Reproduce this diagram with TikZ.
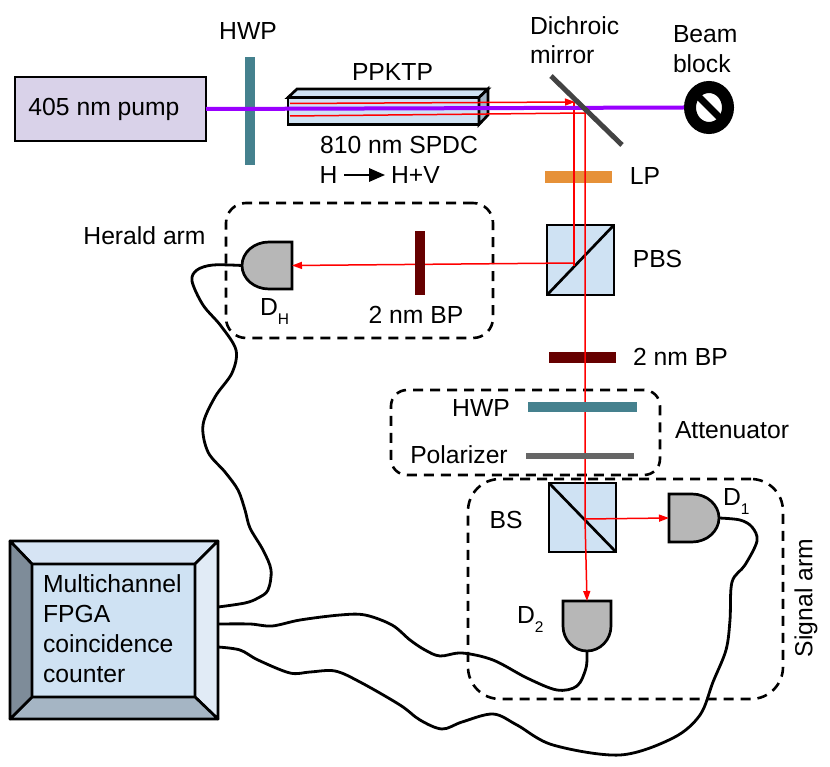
\documentclass[tikz,border=0pt]{standalone}
\usepackage{fontspec}
\setmainfont{Liberation Sans}
\usetikzlibrary{arrows.meta,shapes.geometric}
\definecolor{pumpfill}{HTML}{D9D2E9}
\definecolor{waveplate}{HTML}{45818E}
\definecolor{glass}{HTML}{CFE2F3}
\definecolor{glassend}{HTML}{A2B5C6}
\definecolor{filterdark}{HTML}{660000}
\definecolor{lpfill}{HTML}{E69138}
\definecolor{uvbeam}{HTML}{9900FF}
\definecolor{detfill}{HTML}{B7B7B7}
\definecolor{mirrorgrey}{HTML}{434343}
\definecolor{polgrey}{HTML}{666666}
\definecolor{bevtop}{HTML}{D6E4F4}
\definecolor{bevright}{HTML}{E1EBF6}
\definecolor{bevbottom}{HTML}{A5B5C4}
\definecolor{bevleft}{HTML}{7E8C99}
\newcommand{\detsub}[1]{\raisebox{-9pt}{\fontsize{15.5}{16}\selectfont #1}}
\tikzset{
  lbl/.style={inner sep=0pt,outer sep=0pt,font=\fontsize{24.7}{30}\selectfont,text=black,align=left},
  boxed/.style={draw=black,line width=2.7pt,inner sep=0pt,outer sep=0pt},
  plate/.style={inner sep=0pt,outer sep=0pt},
  cube/.style={boxed,fill=glass,minimum width=67pt,minimum height=69pt},
  region/.style={draw=black,line width=2.6pt,dash pattern=on 10pt off 7pt,rounded corners=20pt,inner sep=0pt,outer sep=0pt},
  ray/.style={draw=red,line width=1.5pt},
  rayhead/.style={ray,-{Triangle[length=10pt,width=7pt]}},
  cable/.style={draw=black,line width=2.8pt,smooth,tension=0.55},
  detshape/.style={draw=black,line width=2.7pt,fill=detfill,line join=miter},
  anchorbox/.style={inner sep=0pt,outer sep=0pt},
  bevel/.style={draw=black,line width=2.7pt,line join=round}
}
\begin{document}
\begin{tikzpicture}[x=1pt,y=-1pt]
\useasboundingbox (0,0) rectangle (830,767);

% dashed regions
\node[region,minimum width=267pt,minimum height=135pt] (heraldzone) at (359.5,270.5) {};
\node[region,rounded corners=16pt,minimum width=269pt,minimum height=85pt] (attzone) at (525.5,432.5) {};
\node[region,rounded corners=32pt,minimum width=315pt,minimum height=220pt] (sigzone) at (625.5,589) {};

% pump and half-wave plate
\node[boxed,fill=pumpfill,minimum width=191pt,minimum height=64pt] (pump) at (110.5,109) {};
\node[lbl] (pumptext) at (104,109) {405 nm pump};
\node[plate,fill=waveplate,minimum width=10pt,minimum height=108pt] (hwpa) at (250,111) {};
\node[lbl] at (248,31) {HWP};

% nonlinear crystal
\node[boxed,fill=glass,minimum width=191pt,minimum height=27pt] (ppktp) at (383.5,111) {};
\draw[boxed,fill=glass] (ppktp.north west) -- (297,89) -- (488,89) -- (ppktp.north east) -- cycle;
\draw[boxed,fill=glassend] (ppktp.north east) -- (488,89) -- (488,115) -- (ppktp.south east) -- cycle;
\node[lbl] at (392.5,72) {PPKTP};
\node[lbl] at (399,145) {810 nm SPDC};
\node[lbl] (hin) at (328.5,175) {H};
\node[lbl] (hout) at (415.5,175) {H+V};
\draw[line width=2.8pt,-{Triangle[length=16pt,width=13pt]}] ([xshift=7pt]hin.east) -- ([xshift=-6pt]hout.west);

% filters and cubes
\node[plate,fill=lpfill,minimum width=67pt,minimum height=12pt] (lp) at (578.5,177) {};
\node[lbl] at (645,176) {LP};
\node[cube,minimum height=70pt] (pbs) at (580.5,260) {};
\draw[line width=2.7pt] (pbs.south west) -- (pbs.north east);
\node[lbl] at (657.5,259) {PBS};
\node[plate,fill=filterdark,minimum width=67pt,minimum height=11pt] (bps) at (582.5,357.5) {};
\node[lbl] at (680.5,357) {2 nm BP};
\node[lbl] at (481,408) {HWP};
\node[lbl] at (459,455) {Polarizer};
\node[lbl] at (732,430) {Attenuator};
\node[cube] (bs) at (582.5,517.5) {};
\draw[line width=2.7pt] (bs.north west) -- (bs.south east);
\node[lbl] at (506,520) {BS};
\node[lbl] at (144.5,236) {Herald arm};
\node[lbl,rotate=90] at (806,598) {Signal arm};
\node[lbl,anchor=west] at (530,26) {Dichroic};
\node[lbl,anchor=west] at (530,55) {mirror};
\node[lbl,anchor=west] at (673,34) {Beam};
\node[lbl,anchor=west] at (673,64) {block};

% detectors
\node[anchorbox,minimum width=50pt,minimum height=47pt] (dh) at (267,265.5) {};
\node[anchorbox,minimum width=50pt,minimum height=48pt] (done) at (694,518) {};
\node[anchorbox,minimum width=48pt,minimum height=50pt] (dtwo) at (587,626) {};
\draw[detshape] (dh.north east) -- ++(-23,0) .. controls +(-15,0) and +(0,-13) .. (dh.west) .. controls +(0,13) and +(-15,0) .. ++(27,23.5) -- (dh.south east) -- cycle;
\draw[detshape] (done.north west) -- ++(23,0) .. controls +(15,0) and +(0,-13) .. (done.east) .. controls +(0,13) and +(15,0) .. ++(-27,24) -- (done.south west) -- cycle;
\draw[detshape] (dtwo.north west) -- (dtwo.north east) -- ++(0,25) .. controls +(0,14) and +(13,0) .. (dtwo.south) .. controls +(-13,0) and +(0,14) .. ++(-24,-25) -- cycle;
\node[lbl,anchor=base west] at (260,316) {D\detsub{H}};
\node[lbl,anchor=base west] at (723,505) {D\detsub{1}};
\node[lbl,anchor=base west] at (517,623) {D\detsub{2}};

% signal rays and herald path
\coordinate (rayAin) at (290,103.5);
\coordinate (rayAturn) at (575,102);
\coordinate (rayAfoot) at (574,266);
\coordinate (rayBin) at (290,116);
\coordinate (rayBturn) at (585,113);
\coordinate (split) at (585,519);
\draw[rayhead] (rayAin) -- (rayAturn);
\draw[ray] (574,102) -- (rayAfoot);
\draw[ray] (rayBin) -- (rayBturn) -- (split);
\draw[rayhead] (split) -- (dtwo.north);
\draw[rayhead] (split) -- (done.west);
\draw[rayhead] (574,263) -- (dh.east);

% elements seated over the rays
\node[plate,fill=filterdark,minimum width=10pt,minimum height=64pt] (bph) at (420,263) {};
\node[lbl] at (416,315) {2 nm BP};
\node[plate,fill=waveplate,minimum width=109pt,minimum height=10pt] (hwpb) at (582.5,407) {};
\node[plate,fill=polgrey,minimum width=108pt,minimum height=6pt] (pol) at (580,455.5) {};

% beam block, pump beam, dichroic mirror
\node[ellipse,draw=black,line width=12pt,fill=white,minimum width=38pt,minimum height=41pt,inner sep=0pt,outer sep=6pt] (block) at (709,107.5) {};
\draw[line width=7pt] (696,94) -- (723,121);
\draw[draw=uvbeam,line width=4pt] (pump.east) -- (block.west);
\coordinate (mirrorA) at (551,76);
\coordinate (mirrorB) at (622,145);
\draw[draw=mirrorgrey,line width=5pt] (mirrorA) -- (mirrorB);

% coincidence counter
\coordinate (oNW) at (10,541);
\coordinate (oNE) at (218,541);
\coordinate (oSE) at (218,719);
\coordinate (oSW) at (10,719);
\node[boxed,fill=glass,minimum width=163pt,minimum height=133pt] (fpga) at (113.5,630.5) {};
\draw[bevel,fill=bevtop] (oNW) -- (oNE) -- (fpga.north east) -- (fpga.north west) -- cycle;
\draw[bevel,fill=bevright] (oNE) -- (oSE) -- (fpga.south east) -- (fpga.north east) -- cycle;
\draw[bevel,fill=bevbottom] (oSE) -- (oSW) -- (fpga.south west) -- (fpga.south east) -- cycle;
\draw[bevel,fill=bevleft] (oSW) -- (oNW) -- (fpga.north west) -- (fpga.south west) -- cycle;
\node[lbl,anchor=north west] at (43,575) {Multichannel\\FPGA\\coincidence\\counter};

% detector cables
\coordinate (portA) at (218,607);
\coordinate (portB) at (218,624);
\coordinate (portC) at (218,647);
\draw[cable] plot coordinates {(dh.west) (213,265) (197,270) (192,281) (203,305) (221,326) (236,350) (232,373) (215,397) (203,425) (208,452) (225,472) (238,490) (245,510) (250,528) (263,550) (271,570) (268,590) (258,598) (245,603) (portA)};
\draw[cable] plot coordinates {(dtwo.south) (586,668) (577,686) (557,690) (527,678) (493,660) (462,653) (440,656) (425,650) (410,640) (392,625) (365,615) (340,615) (300,620) (272,626) (250,624) (portB)};
\draw[cable] plot coordinates {(done.east) (740,520) (752,527) (757,541) (745,565) (732,582) (730,620) (726,650) (713,682) (700,715) (673,738) (620,755) (553,745) (517,725) (493,714) (462,722) (442,729) (420,720) (400,705) (360,682) (335,671) (310,672) (290,673) (258,660) (240,650) (portC)};
\end{tikzpicture}
\end{document}
